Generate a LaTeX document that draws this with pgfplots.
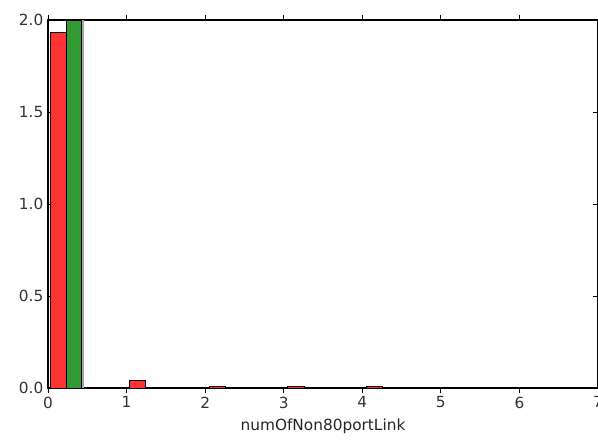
\documentclass[border=0pt]{standalone}
\usepackage{pgfplots}
\pgfplotsset{compat=1.18}
\usepackage{fontspec}
\setmainfont{DejaVu Sans}
\definecolor{myred}{RGB}{255,51,51}
\definecolor{mygreen}{RGB}{51,153,51}
\begin{document}
\begin{tikzpicture}
\begin{axis}[
  width=412.5pt, height=276pt, scale only axis,
  xmin=0, xmax=7, ymin=0, ymax=2,
  xtick={0,1,2,3,4,5,6,7},
  ytick={0,0.5,1,1.5,2},
  yticklabel style={/pgf/number format/.cd, fixed, fixed zerofill, precision=1},
  /pgf/number format/assume math mode=true,
  tick align=inside, xtick pos=both, ytick pos=both,
  major tick length=4pt,
  tick style={black, line width=0.6pt},
  axis line style={line width=0.8pt},
  ticklabel style={font=\fontsize{11.5}{13}\selectfont, text=black!80},
  xticklabel style={yshift=1pt},
  xlabel={numOfNon80portLink},
  xlabel style={font=\fontsize{11.5}{13}\selectfont, text=black!85, yshift=-1pt},
  ybar, bar shift=0pt,
  clip=true,
]
\addplot[fill=myred, draw=black, line width=0.6pt, bar width=0.205] coordinates {(0.128,1.93) (1.14,0.04) (2.155,0.009) (3.155,0.009) (4.15,0.009)};
\addplot[fill=mygreen, draw=black, line width=0.6pt, bar width=0.2] coordinates {(0.33,2.0)};
\addplot[fill=black!35, draw=none, bar width=0.03] coordinates {(0.445,2.0)};
\end{axis}
\pgfresetboundingbox
\path[use as bounding box] ([xshift=-36pt,yshift=-39pt]current axis.south west) rectangle ([yshift=15pt]current axis.north east);
\end{tikzpicture}
\end{document}
